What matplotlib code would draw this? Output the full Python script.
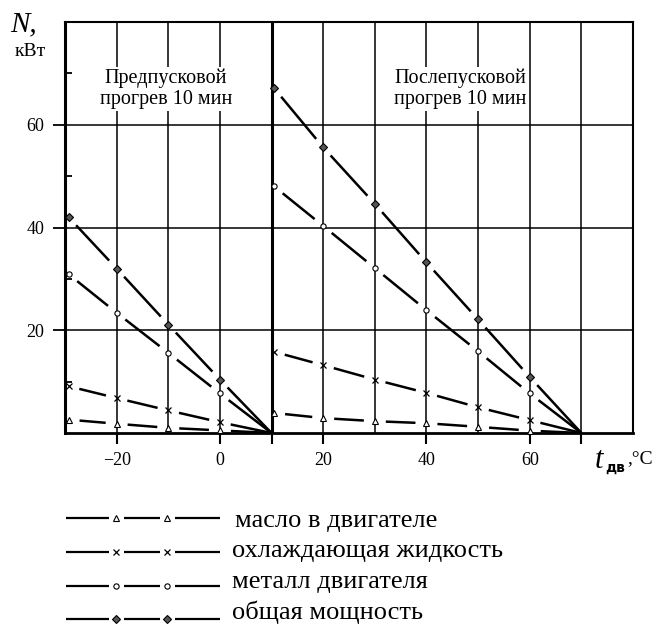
import numpy as np
import matplotlib.pyplot as plt

#
# Data (N, kW vs engine temperature, °C)
#
x_pre = [-29.3, -20, -10, 0, 10]
x_post = [10.5, 20, 30, 40, 50, 60, 70]

oil_pre = [2.6, 1.8, 1.0, 0.5, 0]
cool_pre = [9.1, 6.8, 4.4, 2.1, 0]
metal_pre = [30.9, 23.4, 15.6, 7.7, 0]
total_pre = [42.0, 32.0, 21.1, 10.4, 0]

oil_post = [3.9, 2.9, 2.3, 1.9, 1.2, 0.45, 0]
cool_post = [15.8, 13.2, 10.4, 7.8, 5.0, 2.5, 0]
metal_post = [48.0, 40.3, 32.1, 23.9, 15.9, 7.7, 0]
total_post = [67.1, 55.6, 44.6, 33.2, 22.1, 10.9, 0]

labels = ['масло в двигателе', 'охлаждающая жидкость',
          'металл двигателя', 'общая мощность']
xtick_vals = [-20, 0, 10, 20, 40, 60, 70]
xtick_text = ['\u221220', '0', '', '20', '40', '60', '']

styles = [
    dict(marker='^', mfc='white', mec='black', ms=4, mew=0.8),
    dict(marker='x', mfc='none', mec='black', ms=4.5, mew=0.9),
    dict(marker='o', mfc='white', mec='black', ms=3.8, mew=0.8),
    dict(marker='D', mfc='#555555', mec='black', ms=4, mew=0.8),
]

plt.rcParams['font.family'] = ['Liberation Serif', 'DejaVu Serif']

W, H = 655, 628
fig = plt.figure(figsize=(W / 100, H / 100), dpi=100)
ax = fig.add_axes([65 / W, 1 - 433 / H, 568 / W, 411 / H])
ax.set_xlim(-30, 80)
ax.set_ylim(0, 80)

#
# grid and ticks
#
ax.set_xticks(xtick_vals)
ax.set_xticklabels(xtick_text)
ax.set_xticks(np.arange(-20, 80, 10), minor=True)
ax.set_yticks([20, 40, 60])
ax.set_yticks([10, 30, 50, 70], minor=True)
ax.tick_params(axis='x', which='major', direction='out', length=8, width=1.5,
               labelsize=13, pad=6)
ax.tick_params(axis='x', which='minor', length=0)
ax.tick_params(axis='y', which='major', direction='out', length=9, width=1.3,
               labelsize=13, pad=6)
ax.tick_params(axis='y', which='minor', direction='in', length=5, width=1.3)
ax.xaxis.grid(True, which='both', color='black', lw=1.1)
ax.yaxis.grid(True, which='major', color='black', lw=1.1)
ax.set_axisbelow(True)
for side, lw in [('left', 2.2), ('bottom', 2.0), ('right', 1.5), ('top', 1.5)]:
    ax.spines[side].set_linewidth(lw)
ax.axvline(10, color='black', lw=2.2, zorder=2)


#
# lines with gaps around the markers
#
def draw_gapped(ax, xs, ys, st, gap=11):
    pts = ax.transData.transform(np.column_stack([xs, ys]))
    inv = ax.transData.inverted()
    for i in range(len(pts) - 1):
        p, q = pts[i], pts[i + 1]
        d = q - p
        u = d / np.hypot(*d)
        a = p + u * gap
        b = q - u * gap if i < len(pts) - 2 else q
        seg = inv.transform([a, b])
        ax.plot(seg[:, 0], seg[:, 1], color='black', lw=1.8,
                solid_capstyle='butt', zorder=3)
    ax.plot(xs[:-1], ys[:-1], ls='none', zorder=4, clip_on=False, **st)


pre = [oil_pre, cool_pre, metal_pre, total_pre]
post = [oil_post, cool_post, metal_post, total_post]
for ys_a, ys_b, st in zip(pre, post, styles):
    draw_gapped(ax, x_pre, ys_a, st)
    draw_gapped(ax, x_post, ys_b, st)

#
# region captions
#
box = dict(facecolor='white', edgecolor='none', pad=1)
ax.text(-10.5, 67.0, 'Предпусковой\nпрогрев 10 мин', ha='center', va='center',
        fontsize=14.5, linespacing=1.2, bbox=box, zorder=5)
ax.text(46.5, 67.0, 'Послепусковой\nпрогрев 10 мин', ha='center', va='center',
        fontsize=14.5, linespacing=1.2, bbox=box, zorder=5)

#
# axis labels
#
fig.text(24 / W, 1 - 24 / H, 'N,', fontsize=21, style='italic',
         ha='center', va='center')
fig.text(30 / W, 1 - 52 / H, 'кВт', fontsize=14, ha='center', va='center')
fig.text(599 / W, 1 - 461 / H, 't', fontsize=22, style='italic',
         ha='center', va='center')
fig.text(605 / W, 1 - 468 / H, 'дв', fontsize=10, family='DejaVu Sans',
         weight='bold', ha='left', va='center')
fig.text(627 / W, 1 - 459 / H, ',\u00b0C', fontsize=14, ha='left', va='center')

#
# hand-drawn legend below the chart
#
lax = fig.add_axes([0, 0, 1, 1], facecolor='none')
lax.set_xlim(0, W)
lax.set_ylim(H, 0)
lax.axis('off')
row_y = [518, 552, 586, 619]
text_base = [527, 557, 588, 619]
text_x = [235, 232, 232, 232]
for yy, tb, tx, lab, st in zip(row_y, text_base, text_x, labels, styles):
    for xa, xb in [(66, 109), (124, 160), (175, 220)]:
        lax.plot([xa, xb], [yy, yy], color='black', lw=1.6,
                 solid_capstyle='butt')
    lax.plot([116, 167], [yy, yy], ls='none', **st)
    lax.text(tx, tb, lab, fontsize=19, ha='left', va='baseline')

fig.savefig('out.png', dpi=100)
